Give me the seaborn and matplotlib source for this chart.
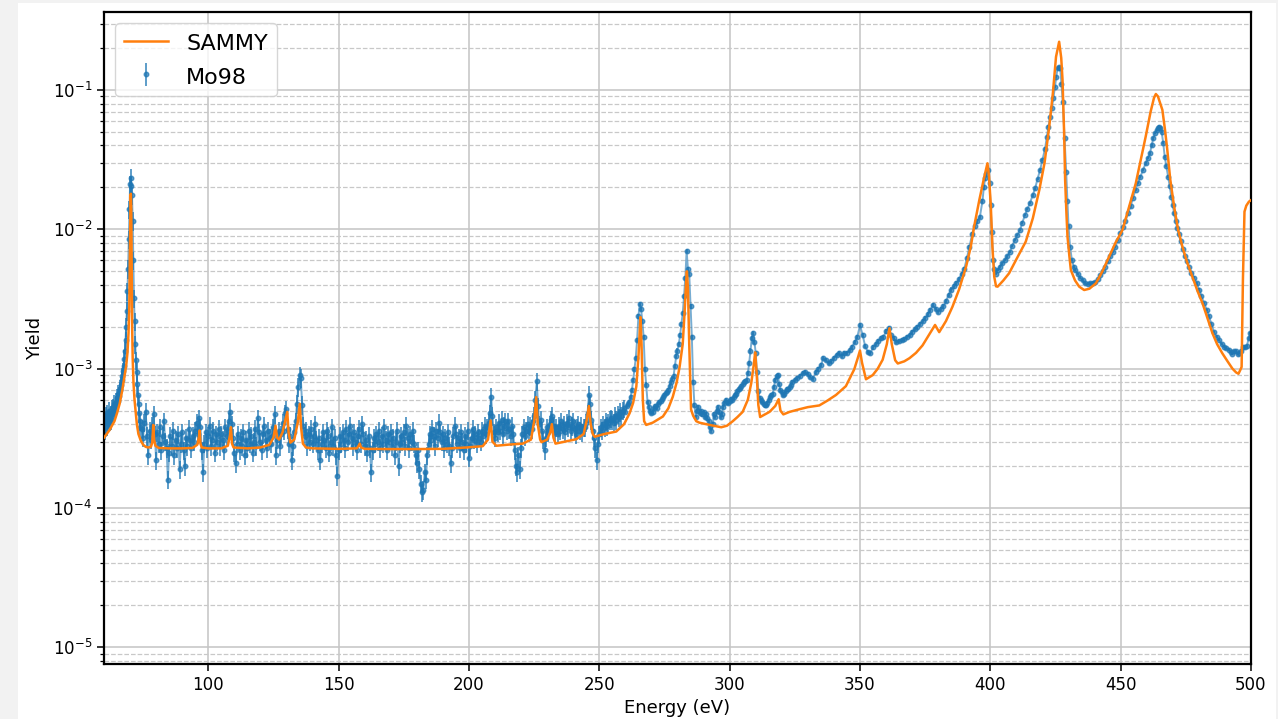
import numpy as np
import matplotlib
matplotlib.use("Agg")
import matplotlib.pyplot as plt
from matplotlib.patches import Rectangle
import seaborn as sns

# ---------------------------------------------------------------------------
# Mo98 capture yield (values in units of 1e-4)
# ---------------------------------------------------------------------------
# 60 - 74 eV, 0.25 eV bins (strong resonance near 70 eV)
mo98_e1_start, mo98_e1_stop, mo98_e1_step = 60.0, 74.0, 0.25
mo98_y1 = [
    3.4, 4.2, 3.6, 4.6, 3.9, 4.8, 4.1, 4.4,
    5.0, 4.2, 4.7, 4.3, 5.2, 4.6, 5.3, 4.9,
    5.6, 5.1, 5.8, 5.5, 6.2, 5.9, 6.6, 6.4,
    7.0, 7.2, 7.6, 8.3, 8.8, 9.6, 10.5, 11.8,
    13.5, 16, 20, 26, 36, 52, 85, 140,
    210, 235, 205, 175, 115, 60, 32, 22,
    15, 11.5, 9.5, 7.8, 6.5, 5.6, 4.8, 4.2,
    3.8,
]

# 74.5 - 324 eV, 0.5 eV bins
mo98_e2_start, mo98_e2_stop, mo98_e2_step = 74.5, 324.0, 0.5
mo98_y2 = [
    3.7, 3.2, 4.1, 4.9, 3.3, 2.4, 3.6, 3.1, 3.9, 4.7, 3.4, 2.2, 3.5, 2.9, 3.8, 2.6, 3.3, 4.2, 3.0, 2.7,
    1.6, 2.5, 3.3, 2.8, 3.6, 2.4, 3.1, 2.7, 3.4, 1.9, 2.9, 3.5, 2.6, 2.0, 3.2, 2.8, 3.7, 3.1, 2.7, 3.3,
    3.0, 3.6, 4.1, 3.4, 4.4, 3.8, 2.6, 1.8, 2.9, 3.5, 2.7, 3.3, 3.9, 2.8, 3.1, 3.6, 2.5, 3.4, 3.0, 3.7,
    2.8, 3.4, 3.1, 2.6, 3.8, 3.3, 3.6, 4.2, 4.9, 4.0, 3.2, 2.5, 2.1, 2.9, 3.4, 2.6, 3.2, 2.8, 3.5, 2.4,
    3.1, 2.7, 3.6, 2.9, 3.3, 2.5, 3.0, 3.7, 2.8, 4.4, 3.5, 3.0, 2.6, 3.4, 3.9, 3.1, 2.7, 3.6, 3.2, 2.9,
    3.3, 3.8, 4.7, 2.4, 3.1, 3.6, 2.8, 3.4, 4.1, 3.6, 4.8, 5.1, 3.7, 2.9, 3.3, 2.2, 2.8, 3.5, 4.2, 5.6,
    7.4, 9.0, 8.6, 5.5, 3.9, 3.3, 3.6, 2.8, 3.4, 3.0, 3.7, 2.9, 3.3, 4.0, 3.1, 2.6, 3.2, 2.2, 2.9, 3.5,
    3.1, 2.7, 3.6, 3.3, 2.5, 3.0, 3.8, 2.8, 3.2, 2.4, 1.7, 2.6, 3.3, 2.9, 3.5, 3.1, 2.7, 3.7, 3.0, 3.4,
    3.9, 3.2, 2.8, 3.5, 3.0, 2.6, 3.3, 3.7, 2.9, 4.0, 3.4, 2.8, 3.1, 2.5, 3.3, 2.7, 1.8, 2.6, 3.2, 2.9,
    3.4, 3.0, 3.6, 2.7, 3.3, 2.9, 3.8, 3.1, 2.6, 3.4, 3.0, 3.5, 2.8, 3.2, 2.4, 3.0, 3.6, 2.0, 2.9, 3.3,
    3.0, 3.5, 2.8, 3.9, 3.2, 2.7, 3.4, 3.0, 3.6, 2.9, 2.4, 2.1, 2.6, 1.9, 1.5, 1.3, 1.35, 1.8, 1.6, 2.4,
    2.9, 3.4, 3.1, 3.7, 3.3, 2.8, 3.6, 3.2, 4.1, 3.5, 3.0, 3.4, 2.7, 3.2, 2.9, 3.5, 2.8, 2.1, 2.7, 3.3,
    3.9, 3.4, 2.9, 3.2, 2.7, 3.5, 3.0, 2.6, 3.3, 2.9, 3.6, 2.3, 2.8, 3.2, 3.7, 3.1, 3.4, 2.9, 3.5, 3.2,
    3.0, 3.6, 3.3, 3.9, 3.4, 3.8, 4.1, 4.8, 6.3, 4.6, 3.5, 3.2, 3.8, 3.5, 4.1, 3.6, 4.3, 3.4, 3.9, 4.2,
    3.6, 4.2, 3.7, 3.3, 3.9, 3.4, 2.6, 2.0, 1.8, 2.4, 1.9, 2.7, 3.4, 3.8, 3.3, 3.6, 4.0, 3.5, 3.9, 3.7,
    4.2, 4.6, 6.0, 8.1, 5.4, 4.0, 4.3, 3.6, 3.1, 2.6, 3.2, 3.8, 3.5, 4.0, 4.3, 4.6, 3.9, 3.5, 3.8, 3.4,
    3.9, 3.6, 4.2, 3.7, 4.0, 3.5, 4.1, 3.8, 4.4, 3.6, 3.9, 4.2, 3.7, 3.4, 3.8, 4.0, 3.6, 3.9, 3.5, 3.8,
    3.8, 4.1, 4.8, 6.5, 5.6, 4.3, 3.6, 3.2, 2.7, 2.2, 2.9, 3.4, 3.8, 3.6, 4.0, 3.8, 4.2, 3.9, 4.1, 4.3,
    4.4, 4.3, 4.1, 4.6, 4.3, 4.7, 4.5, 4.9, 4.6, 5.0, 5.2, 4.9, 5.4, 5.6, 5.8, 6.3, 7.0, 8.3, 10, 12,
    16, 23.7, 29, 27, 22, 17, 10, 7.7, 5.8, 5.3, 5.0, 4.8, 4.9, 5.2, 5.4, 5.2, 5.6, 5.8, 5.9, 6.1,
    6.3, 6.5, 6.7, 6.8, 7.0, 7.5, 8.0, 8.5, 8.9, 10.5, 12.3, 13.5, 15.0, 17.5, 21, 25, 33, 45, 70, 52,
    48, 28, 17, 8.0, 5.5, 4.5, 5.0, 5.3, 4.8, 5.0, 4.7, 4.9, 4.5, 4.7, 4.4, 4.2, 3.8, 3.6, 4.0, 4.7,
    4.5, 5.0, 5.3, 4.9, 4.5, 4.7, 5.3, 5.7, 6.0, 5.8, 5.7, 5.9, 6.1, 6.0, 6.3, 6.5, 6.6, 6.9, 7.1, 7.3,
    7.5, 7.8, 8.0, 8.1, 8.3, 9.3, 11.0, 13.5, 16.5, 18.0, 15.6, 13.0, 9.5, 6.9, 6.2, 6.0, 5.8, 5.6, 5.45, 5.5,
    5.7, 6.0, 6.3, 6.5, 6.6, 7.4, 8.3, 8.8, 9.0, 7.8, 7.0, 6.8, 6.5, 6.6, 6.9, 7.1, 7.2, 7.4, 7.6, 8.0,
]

# 325 - 396 eV, 1 eV bins
mo98_e3_start, mo98_e3_stop, mo98_e3_step = 325.0, 396.0, 1.0
mo98_y3 = [
    8.3, 8.6, 8.9, 9.3, 9.5, 9.2, 8.7, 8.5, 9.4, 10.0,
    10.6, 11.9, 11.5, 11.0, 11.3, 12.0, 12.6, 13.0, 12.4, 13.0,
    13.0, 13.6, 14.4, 15.5, 17.0, 20.5, 17.5, 14.5, 13.2, 13.0,
    14.2, 15.0, 15.8, 16.5, 17.0, 18.5, 19.5, 17.5, 16.5, 15.5,
    15.8, 16.0, 16.3, 17.0, 17.5, 18.3, 19.3, 20.0, 21.0, 22.0,
    23.0, 24.5, 26.5, 28.6, 27.0, 25.7, 27.0, 28.0, 30.5, 34.0,
    37.0, 39.0, 41.0, 44.0, 48.0, 52.0, 62.0, 75.0, 92.0, 105,
    114, 123,
]

# 397 - 500 eV, coarser bins
mo98_e4 = [
    397.0, 397.5, 398.0, 398.5, 399.2, 399.7, 400.1, 400.6, 401.1, 401.6,
    402.1, 402.8, 403.6, 404.6, 405.6, 406.5, 407.5, 408.4, 409.4, 410.4,
    411.4, 412.3, 413.3, 414.2, 415.2, 416.2, 417.2, 418.1, 419.1, 420.0,
    421.0, 421.7, 422.3, 423.0, 423.6, 424.2, 424.8, 425.3, 425.8, 426.3,
    426.8, 427.3, 427.8, 428.5, 429.1, 429.6, 430.0, 430.6, 431.3, 432.0,
    432.5, 433.5, 434.5, 435.5, 436.4, 437.4, 438.3, 439.3, 440.3, 441.2,
    442.2, 443.2, 444.1, 445.1, 446.1, 447.0, 448.0, 449.0, 449.9, 450.9,
    451.8, 452.8, 453.8, 454.7, 455.7, 456.6, 457.6, 458.6, 459.6, 460.4,
    461.2, 461.9, 462.5, 463.2, 463.8, 464.3, 464.7, 465.2, 465.7, 466.3,
    466.9, 467.5, 468.2, 468.8, 469.4, 470.0, 470.5, 471.1, 471.7, 472.3,
    473.0, 473.8, 474.6, 475.4, 476.2, 477.1, 478.1, 479.1, 480.1, 481.0,
    482.0, 483.0, 483.9, 484.8, 485.8, 486.8, 487.8, 488.7, 489.7, 490.6,
    491.6, 492.3, 492.9, 493.6, 494.2, 494.9, 495.5, 496.2, 497.1, 497.8,
    498.4, 499.1, 499.7,
]
mo98_y4 = [
    160, 200, 232, 250, 267, 215, 149, 95, 60, 52,
    48, 51, 54, 57, 60, 64, 69, 76, 84, 91,
    99, 112, 127, 140, 154, 175, 197, 230, 267, 315,
    380, 460, 546, 640, 740, 880, 1050, 1250, 1430, 1460,
    1450, 1100, 824, 450, 260, 160, 105, 75, 60, 54,
    51, 48, 45, 43, 41, 40.5, 41, 41.5, 42, 44,
    47, 50, 54, 59, 64, 69, 75, 84, 94, 104,
    114, 130, 146, 168, 192, 215, 239, 268, 298, 325,
    351, 400, 450, 490, 516, 535, 546, 530, 503, 420,
    333, 285, 239, 205, 172, 150, 130, 115, 102, 92,
    82, 72, 64, 59, 54, 49, 45, 41, 37, 33,
    29.5, 26.5, 23.7, 21, 18.3, 17, 16, 15, 14.4, 14,
    13.7, 13.2, 12.8, 13.3, 13.3, 12.8, 13.0, 13.5, 14.4, 14.2,
    14.5, 16.5, 18.0,
]

# relative uncertainty of the yield per energy band
rel_err_edges = [60.0, 260.0, 400.0, 500.0]
rel_err_vals = [0.15, 0.035, 0.02]

# ---------------------------------------------------------------------------
# SAMMY fit (values in units of 1e-4)
# ---------------------------------------------------------------------------
sammy_e = [
    60, 62, 64, 65, 66, 67, 67.7, 68.5, 69, 69.4,
    69.7, 69.9, 70.05, 70.2, 70.3, 70.45, 70.6, 70.8, 71.0, 71.3,
    71.7, 72.1, 72.6, 73.2, 74.1, 75, 76, 77, 78, 78.5,
    78.9, 79.2, 79.7, 81, 85, 90, 94, 95.8, 96.4, 96.7,
    97.0, 97.5, 100, 105, 107.5, 108.3, 108.7, 109.1, 109.7, 115,
    120, 123.5, 125, 125.8, 126.4, 127.2, 128.5, 129.6, 130.3, 130.8,
    131.5, 133, 134.3, 135.1, 135.6, 136.3, 137.5, 140, 150, 157,
    157.7, 158.1, 158.6, 160, 170, 180, 190, 199, 205.3, 207.3,
    208.3, 209, 210.5, 215, 220.7, 223.8, 225.1, 225.8, 226.4, 227.3,
    227.8, 230, 231.2, 231.8, 232.4, 233.2, 237, 241.2, 244, 245.2,
    246, 246.7, 247.5, 248.2, 252, 256.5, 259.5, 261.6, 263, 264.2,
    265, 265.5, 265.8, 266.2, 266.7, 267.2, 268, 270.5, 274.4, 276.5,
    278.2, 279.7, 280.8, 282, 282.7, 283.2, 283.6, 284.0, 284.5, 285.2,
    286, 287.2, 288.4, 292.3, 296.8, 299, 301.2, 303, 305, 307,
    308.3, 309.2, 309.8, 310.4, 311, 311.7, 313.5, 315.3, 317.5, 318.8,
    319.5, 320.6, 323, 326.8, 330, 334.4, 337.5, 340.8, 344.6, 347.8,
    349.2, 350, 350.8, 352.3, 354.9, 356.8, 358.7, 360.3, 361.3, 362.2,
    363.5, 364.5, 367, 369, 371.5, 374, 376.5, 378.8, 380.4, 383,
    385.5, 388, 390.7, 392.5, 393.8, 395.8, 397.5, 398.9, 399.5, 400.2,
    400.8, 401.5, 402.2, 402.8, 405, 407.2, 410, 413.6, 416.3, 418.8,
    420.8, 422.6, 424, 425.2, 426.4, 427.2, 427.7, 428.3, 428.7, 429.2,
    429.6, 430.3, 430.9, 432.5, 434.1, 436, 438, 440.5, 443, 445.6,
    448, 450.7, 453, 455.8, 457.8, 459.6, 461.5, 462.8, 463.5, 464.3,
    465.2, 466, 467, 467.9, 469, 470.5, 472, 473.7, 475.5, 477.5,
    479.5, 481.4, 483.3, 485.2, 487, 489, 491, 492.9, 494.3, 495.2,
    495.9, 496.4, 496.7, 496.9, 497.5, 498.2, 499.2, 500,
]
sammy_y = [
    3.2, 3.6, 4.2, 4.8, 5.6, 7.0, 8.5, 10.5, 13, 18,
    28, 60, 120, 175, 180, 140, 60, 20, 12, 8.0,
    6.0, 5.0, 4.0, 3.4, 3.05, 2.85, 2.75, 2.72, 2.75, 2.95,
    3.95, 3.1, 2.8, 2.7, 2.68, 2.68, 2.7, 2.85, 3.2, 3.6,
    2.9, 2.72, 2.68, 2.68, 2.8, 3.3, 3.8, 2.9, 2.72, 2.68,
    2.72, 2.85, 3.2, 3.9, 3.2, 3.1, 3.5, 4.3, 4.9, 3.5,
    2.95, 3.1, 4.1, 5.6, 3.8, 2.9, 2.72, 2.68, 2.66, 2.68,
    2.8, 2.9, 2.72, 2.66, 2.65, 2.65, 2.66, 2.72, 2.78, 3.1,
    4.25, 3.0, 2.8, 2.85, 2.9, 3.1, 4.3, 6.25, 4.0, 3.1,
    2.97, 3.1, 3.5, 4.0, 3.2, 2.9, 3.0, 3.12, 3.4, 4.3,
    5.4, 4.0, 3.4, 3.25, 3.4, 3.54, 4.0, 4.78, 5.7, 7.45,
    12, 18, 23.5, 15, 6, 4.2, 3.95, 4.1, 4.54, 5.2,
    6.3, 8, 10.3, 15, 25, 38, 50, 38, 15, 5.1,
    4.6, 4.2, 4.1, 3.95, 3.8, 3.9, 4.2, 4.5, 4.9, 6.0,
    7.9, 10.5, 13.1, 9, 5.5, 4.5, 4.7, 4.9, 5.4, 6.04,
    5.0, 4.7, 4.9, 5.12, 5.3, 5.45, 5.9, 6.48, 7.5, 9.9,
    12, 13.5, 11, 8.4, 9.0, 10.0, 11.6, 15, 19.5, 15,
    11.5, 10.9, 11.3, 11.9, 13, 14.7, 17.5, 20.6, 18.3, 22,
    27.9, 37, 54, 75, 105, 163, 230, 298, 240, 146,
    75, 45.8, 39, 38.8, 43, 48.4, 61, 81.7, 120, 192,
    300, 546, 950, 1730, 2220, 1700, 1180, 500, 226, 130,
    89, 65, 51, 43, 38.8, 36.7, 37.5, 41, 50, 63.7,
    80, 99, 140, 214, 320, 463, 700, 880, 936, 900,
    800, 720, 520, 370, 230, 146, 100, 75, 58, 45.8,
    36, 29.5, 23, 18, 15, 12.9, 11.3, 10.0, 9.4, 9.2,
    9.8, 10.3, 25, 43.3, 134, 148, 158, 162,
]

x_ticks = [100, 150, 200, 250, 300, 350, 400, 450, 500]
UNIT = 1e-4

# ---------------------------------------------------------------------------
# assemble arrays
# ---------------------------------------------------------------------------
def grid(start, stop, step):
    return np.arange(start, stop + step / 2, step)

mo98_e = np.concatenate([
    grid(mo98_e1_start, mo98_e1_stop, mo98_e1_step),
    grid(mo98_e2_start, mo98_e2_stop, mo98_e2_step),
    grid(mo98_e3_start, mo98_e3_stop, mo98_e3_step),
    np.array(mo98_e4),
])
mo98_y = np.concatenate([mo98_y1, mo98_y2, mo98_y3, mo98_y4]) * UNIT
n = min(len(mo98_e), len(mo98_y))
mo98_e, mo98_y = mo98_e[:n], mo98_y[:n]

band = np.clip(np.digitize(mo98_e, rel_err_edges) - 1, 0, len(rel_err_vals) - 1)
mo98_err = mo98_y * np.array(rel_err_vals)[band]

s_e = np.array(sammy_e, dtype=float)
s_y = np.array(sammy_y, dtype=float) * UNIT

# ---------------------------------------------------------------------------
# figure
# ---------------------------------------------------------------------------
W, H = 1278, 719
fig = plt.figure(figsize=(W / 100, H / 100), dpi=100, facecolor="#f2f2f2")
fig.patches.append(Rectangle((18 / W, 0), (1276 - 18) / W, (H - 3) / H,
                             transform=fig.transFigure, facecolor="white",
                             edgecolor="none", zorder=-10))
ax = fig.add_axes([104 / W, (H - 664) / H, (1251 - 104) / W, (664 - 12) / H])
ax.set_facecolor("white")

blue = "#1f77b4"
orange = "#ff7f0e"

ax.errorbar(mo98_e, mo98_y, yerr=mo98_err, fmt=".", ms=6.5, color=blue,
            elinewidth=1.4, alpha=0.72, label="Mo98", zorder=2)
sns.lineplot(x=mo98_e, y=mo98_y, ax=ax, color=blue, lw=1.4, alpha=0.6,
             sort=False, estimator=None, legend=False, zorder=2)
sns.lineplot(x=s_e, y=s_y, ax=ax, color=orange, lw=1.8, sort=False,
             estimator=None, label="SAMMY", zorder=3)

ax.set_yscale("log")
ax.set_xlim(60, 500)
ax.set_ylim(7.6e-6, 0.363)
ax.set_xticks(x_ticks)

ax.set_axisbelow(True)
ax.grid(True, which="major", color="#c4c4c4", lw=1.1, ls="-")
ax.grid(True, which="minor", axis="y", color="#c8c8c8", lw=0.9, ls="--")

for sp in ax.spines.values():
    sp.set_linewidth(1.6)
    sp.set_color("black")
ax.tick_params(axis="both", which="major", labelsize=12, length=5, width=1.1)
ax.tick_params(axis="y", which="minor", length=3, width=0.9)

ax.set_xlabel("Energy (eV)", fontsize=13, labelpad=4)
ax.set_ylabel("Yield", fontsize=13, labelpad=6)

handles, labels = ax.get_legend_handles_labels()
lookup = dict(zip(labels, handles))
ax.legend([lookup["SAMMY"], lookup["Mo98"]], ["SAMMY", "Mo98"],
          loc="upper left", fontsize=16, framealpha=0.8, handleheight=1.1)

fig.savefig("out.png", dpi=100, facecolor=fig.get_facecolor())
